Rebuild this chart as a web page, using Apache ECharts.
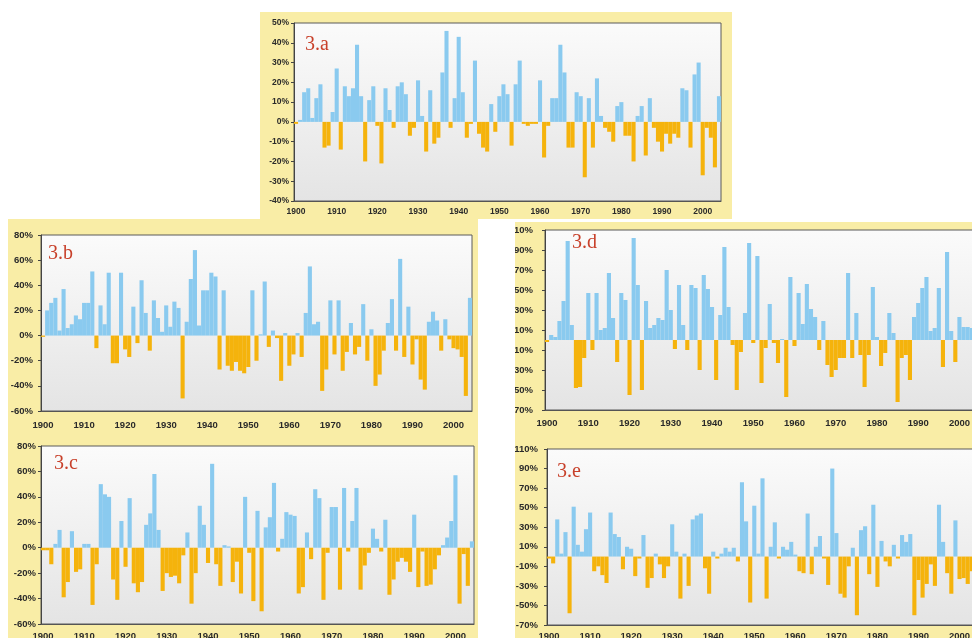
<!DOCTYPE html>
<html><head><meta charset="utf-8">
<script src="https://cdn.jsdelivr.net/npm/echarts@6/dist/echarts.min.js"></script>
<style>
html,body{margin:0;padding:0;background:#fff;}
#wrap{position:relative;width:972px;height:638px;background:#fff;overflow:hidden;}
.fr{position:absolute;background:#f9eda6;}
#c{position:absolute;left:0;top:0;width:972px;height:638px;}
</style>
</head><body>
<div id="wrap">
  <div class="fr" style="left:260px;top:12px;width:472px;height:207px"></div>
  <div class="fr" style="left:8px;top:219px;width:470px;height:419px"></div>
  <div class="fr" style="left:515px;top:222px;width:457px;height:416px"></div>
  <div id="c"></div>
  <div style="position:absolute;left:478px;top:219px;width:37px;height:419px;background:#fff"></div>
</div>
<script>
// categories: years 1900..2004
const years = [];
for (let y = 1900; y <= 2004; y++) years.push(String(y));
const shownTicks = ['1900','1910','1920','1930','1940','1950','1960','1970','1980','1990','2000'];

const panelA = [
 -1, 1, 15, 17, 2, 12, 19, -13, -12, 5,
 27, -14, 18, 13, 17, 39, 13, -20, 11, 18,
 -2, -21, 17, 6, -3, 18, 20, 14, -7, -3,
 21, 3, -15, 16, -11, -8, 25, 46, -3, 12,
 43, 15, -8, -1, 31, -6, -13, -15, 9, -5,
 13, 19, 14, -12, 19, 31, -1, -2, -1, -1,
 21, -18, -2, 12, 12, 39, 25, -13, -13, 15,
 13, -28, 12, -13, 22, 3, -3, -5, -10, 8,
 10, -7, -7, -20, 3, 8, -17, 12, -3, -10,
 -15, -6, -11, -6, -8, 17, 16, -13, 24, 30,
 -27, -3, -8, -23, 13];
const panelB = [
 -1, 20, 26, 30, 4, 37, 6, 9, 16, 13,
 26, 26, 51, -10, 24, 9, 50, -22, -22, 50,
 -11, -17, 23, -6, 44, 18, -12, 28, 14, 3,
 24, 7, 27, 22, -50, 11, 45, 68, 8, 36,
 36, 50, 47, -27, 36, -24, -28, -21, -28, -30,
 -25, 36, -20, 1, 43, -9, 4, -2, -36, 2,
 -24, -15, 2, -17, 18, 55, 9, 11, -44, -27,
 28, -15, 28, -28, -13, 10, -15, -9, 25, -20,
 5, -40, -31, -12, 10, 29, -12, 61, -17, 23,
 -23, -3, -35, -43, 11, 19, 12, -12, 13, -3,
 -10, -11, -17, -48, 30];
const panelC = [
 -2, -2, -13, 3, 14, -39, -27, 13, -19, -17,
 3, 3, -45, -13, 50, 42, 40, -25, -41, 21,
 -15, 39, -28, -35, -27, 18, 27, 58, 14, -34,
 -20, -23, -22, -28, -6, 12, -44, -20, 33, 18,
 -12, 66, -13, -30, 2, 1, -27, -11, -36, 40,
 -4, -42, 29, -50, 16, 24, 51, -3, 7, 28,
 26, 25, -36, -31, 12, -9, 46, 39, -41, -4,
 32, 32, -33, 47, -3, 21, 47, -33, -14, -4,
 15, 7, -3, 22, -37, -25, -11, -8, -11, -19,
 26, -31, -3, -30, -29, -17, -6, 2, 8, 21,
 57, -44, -5, -30, 5];
const panelD = [
 -2, 5, 3, 19, 39, 99, 15, -48, -47, -18,
 47, -10, 47, 10, 12, 67, 22, -22, 47, 40,
 -55, 102, 55, -50, 39, 12, 15, 22, 20, 70,
 30, -9, 55, 15, -10, 55, 52, -30, 65, 51,
 33, -40, 25, 93, 33, -5, -50, -12, 27, 97,
 -3, 84, -43, -8, 36, -3, -23, 1, -57, 63,
 -6, 47, 16, 56, 31, 23, -10, 19, -25, -37,
 -30, -18, -18, 67, -18, 27, -15, -47, -15, 53,
 3, -26, -13, 27, 7, -62, -18, -15, -40, 23,
 37, 52, 63, 9, 12, 52, -27, 88, 9, -22,
 23, 13, 13, 12, 8];
const panelE = [
 -2, -7, 38, 3, 25, -58, 51, 12, 5, 28,
 45, -15, -10, -19, -27, 45, 23, 20, -13, 10,
 8, -20, -2, 22, -32, -22, 3, -8, -22, -10,
 33, 5, -43, 3, -30, 38, 42, 44, -12, -38,
 5, -2, 3, 9, 5, 9, -5, 76, 36, -47,
 52, 3, 80, -43, 10, 35, -2, 10, 7, 15,
 2, -15, -17, 44, -18, 10, 21, -2, -29, 90,
 24, -38, -42, -10, 9, -60, 27, 31, -18, 53,
 -31, 16, -5, -10, 12, -2, 22, 15, 23, -60,
 -24, -42, -28, -8, -30, 53, 15, -17, -38, 37,
 -23, -22, -28, -15, -10];

const panelNames = ['3.a','3.b','3.c','3.d','3.e'];
const BLUE = '#8acaef', ORANGE = '#f5b30c';

const panels = [
 {data: panelA, grid:{left:294, top:23, width:427, height:178}, min:-40, max:50, step:10, xm:6, ym:5, fs:8.5, lx:305, ly:47},
 {data: panelB, grid:{left:41, top:235, width:431, height:176}, min:-60, max:80, step:20, xm:9, ym:8, fs:9.5, lx:48, ly:256},
 {data: panelC, grid:{left:41, top:446, width:433, height:178}, min:-60, max:80, step:20, xm:7, ym:5, fs:9.5, lx:54, ly:466},
 {data: panelD, grid:{left:545, top:230, width:433, height:180}, min:-70, max:110, step:20, xm:8, ym:12, fs:9.5, lx:572, ly:245},
 {data: panelE, grid:{left:547, top:449, width:431, height:176}, min:-70, max:110, step:20, xm:6, ym:9, fs:9.5, lx:557, ly:474}
];

const bg = new echarts.graphic.LinearGradient(0,0,0,1,[{offset:0,color:'#fbfbfb'},{offset:1,color:'#e4e4e4'}]);
const lblStyle = (fs, m) => ({margin:m, fontSize:fs, fontWeight:'bold', fontFamily:'Liberation Sans, Arial, sans-serif', color:'#2a2a2a'});

const option = {
  animation:false,
  backgroundColor:'transparent',
  grid: panels.map(p => Object.assign({show:true, containLabel:false, outerBoundsMode:'none', backgroundColor:bg, borderColor:'#5a5a5a', borderWidth:1}, p.grid)),
  xAxis: panels.map((p,i) => ({
    type:'category', gridIndex:i, data:years, boundaryGap:true,
    axisLine:{onZero:false, lineStyle:{color:'#555'}},
    axisTick:{show:false}, splitLine:{show:false},
    axisLabel: Object.assign({interval:(idx,val)=>shownTicks.includes(val)}, lblStyle(p.fs, p.xm))
  })),
  yAxis: panels.map((p,i) => ({
    type:'value', gridIndex:i, min:p.min, max:p.max, interval:p.step,
    axisLine:{show:true, lineStyle:{color:'#444'}},
    axisTick:{show:true, length:3, lineStyle:{color:'#444'}},
    splitLine:{show:false},
    axisLabel: Object.assign({formatter:'{value}%', showMinLabel:true, showMaxLabel:true}, lblStyle(p.fs, p.ym))
  })),
  series: panels.map((p,i) => ({
    type:'bar', xAxisIndex:i, yAxisIndex:i, barCategoryGap:'0%',
    data: p.data.map(v => ({value:v, itemStyle:{color: v >= 0 ? BLUE : ORANGE}}))
  })),
  graphic: panels.map((p,i) => ({
    type:'text', left:p.lx, top:p.ly-12, z:50,
    style:{text:panelNames[i], font:'20px "Liberation Serif", "Times New Roman", serif', fill:'#c8412b'}
  }))
};
const chart = echarts.init(document.getElementById('c'), null, {renderer:'canvas', width:972, height:638});
chart.setOption(option);
</script>
</body></html>
